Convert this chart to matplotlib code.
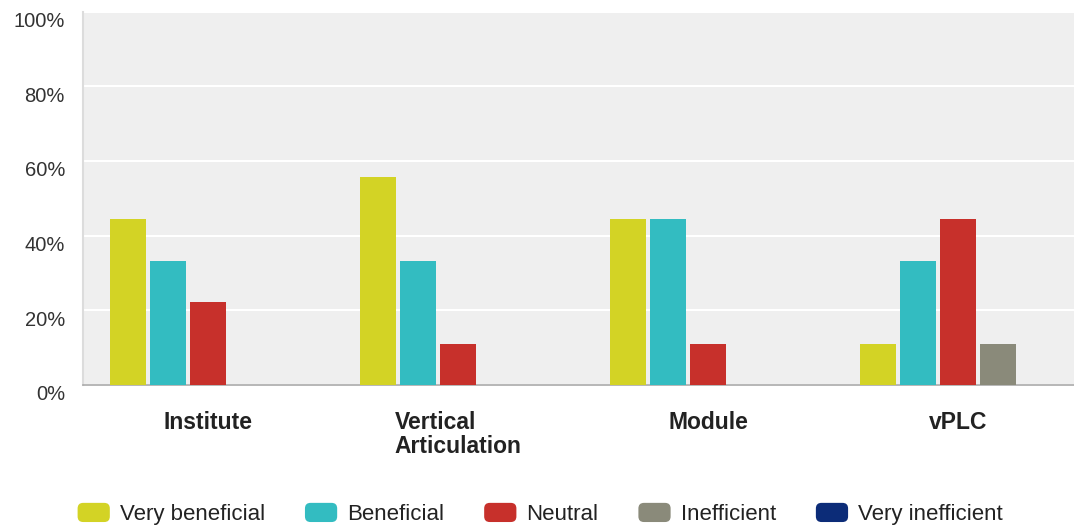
import numpy as np
import matplotlib.pyplot as plt
import matplotlib.transforms as mtransforms
from matplotlib.patches import Patch, FancyBboxPatch
from matplotlib.legend_handler import HandlerPatch

plt.rcParams['font.family'] = ['Liberation Sans', 'DejaVu Sans']

# Survey results (% of respondents)
categories = ['Institute', 'Vertical\nArticulation', 'Module', 'vPLC']
series = ['Very beneficial', 'Beneficial', 'Neutral', 'Inefficient', 'Very inefficient']
very_beneficial = [44.4, 55.6, 44.4, 11.1]
beneficial = [33.3, 33.3, 44.4, 33.3]
neutral = [22.2, 11.1, 11.1, 44.4]
inefficient = [0, 0, 0, 11.1]
very_inefficient = [0, 0, 0, 0]
colors = ['#d3d325', '#33bcc1', '#c7302b', '#8a8a7a', '#0c2c78']

values = [very_beneficial, beneficial, neutral, inefficient, very_inefficient]


class RoundedHandler(HandlerPatch):
    # legend swatches with slightly rounded corners
    def create_artists(self, legend, orig_handle, xdescent, ydescent,
                       width, height, fontsize, trans):
        p = FancyBboxPatch((-xdescent, -ydescent), width, height,
                           boxstyle='round,pad=0,rounding_size=4',
                           facecolor=orig_handle.get_facecolor(),
                           edgecolor='none', transform=trans)
        return [p]


fig = plt.figure(figsize=(10.74, 5.25), dpi=100)
ax = fig.add_axes([83 / 1074, 140 / 525, 991 / 1074, 373.5 / 525])
ax.set_facecolor('#efefef')

x = np.arange(len(categories))
slot = 0.16
for k, (vals, col) in enumerate(zip(values, colors)):
    ax.bar(x + (k - 2) * slot, vals, width=0.144, color=col, zorder=3)

ax.set_xlim(-0.5, 3.464)
ax.set_ylim(0, 100)
ax.set_yticks([0, 20, 40, 60, 80, 100])
ax.set_yticklabels(['0%', '20%', '40%', '60%', '80%', '100%'])
ax.yaxis.grid(True, color='white', linewidth=1.5, zorder=0)
ax.tick_params(axis='y', length=0, pad=13, labelsize=14.5, labelcolor='#333333')

# y labels sit a little below their gridlines
shift = mtransforms.ScaledTranslation(0, -8 / 100, fig.dpi_scale_trans)
for lbl in ax.get_yticklabels():
    lbl.set_transform(lbl.get_transform() + shift)

ax.set_xticks(x)
ax.set_xticklabels(categories, fontsize=16.5, fontweight='bold', color='#222222',
                   linespacing=1.05, va='top', multialignment='left')
ax.tick_params(axis='x', length=0, pad=19)

for s in ['top', 'right']:
    ax.spines[s].set_visible(False)
ax.spines['left'].set_color('#dcdcdc')
ax.spines['left'].set_linewidth(1.5)
ax.spines['bottom'].set_color('#aaaaaa')
ax.spines['bottom'].set_linewidth(1.2)

handles = [Patch(facecolor=c, edgecolor=c) for c in colors]
fig.legend(handles, series, loc='center', bbox_to_anchor=(0.503, 0.021), ncol=5,
           frameon=False, fontsize=16, handlelength=1.45, handleheight=0.95,
           handletextpad=0.45, columnspacing=1.8, labelcolor='#222222',
           handler_map={Patch: RoundedHandler()})

fig.savefig('out.png', dpi=100)
